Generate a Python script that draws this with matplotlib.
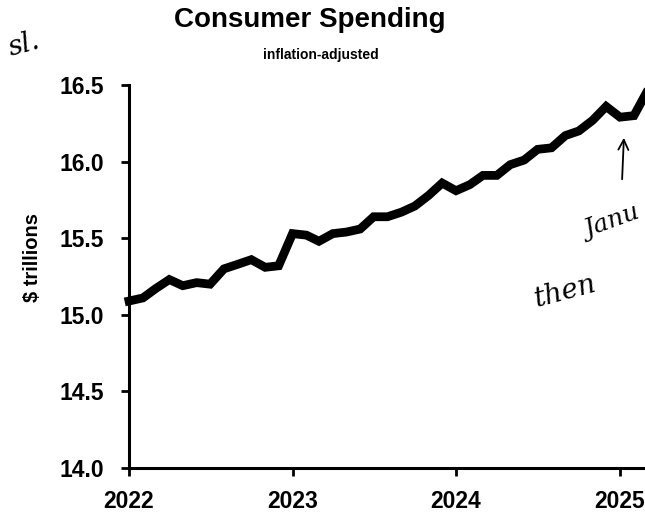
import matplotlib
matplotlib.use("Agg")
import matplotlib.pyplot as plt
import pandas as pd

# monthly consumer spending, inflation-adjusted ($ trillions), Jan 2022 - Mar 2025
months = pd.date_range("2022-01-01", periods=39, freq="MS")
spending = [15.09, 15.11, 15.17, 15.23, 15.19, 15.21, 15.20, 15.30, 15.33, 15.36, 15.31, 15.32,
            15.53, 15.52, 15.48, 15.53, 15.54, 15.56, 15.64, 15.64, 15.67, 15.71, 15.78, 15.86,
            15.81, 15.85, 15.91, 15.91, 15.98, 16.01, 16.08, 16.09, 16.17, 16.20, 16.27, 16.36,
            16.29, 16.30, 16.45]
year_ticks = pd.to_datetime(["2022-01-01", "2023-01-01", "2024-01-01", "2025-01-01"])
year_labels = ["2022", "2023", "2024", "2025"]
y_ticks = [14.0, 14.5, 15.0, 15.5, 16.0, 16.5]

plt.rcParams['font.family'] = ['Liberation Sans', 'DejaVu Sans']
plt.rcParams['font.weight'] = 'bold'

fig = plt.figure(figsize=(6.45, 5.13), dpi=100)
ax = fig.add_axes([0.2, 0.0877, 0.887, 0.7466])

ax.plot(months, spending, color='black', lw=6.3, solid_joinstyle='miter', clip_on=False)

ax.set_xlim(pd.Timestamp("2022-01-01"), pd.Timestamp("2025-07-01"))
ax.set_ylim(14.0, 16.5)
ax.set_xticks(year_ticks)
ax.set_xticklabels(year_labels)
ax.set_yticks(y_ticks)
ax.set_yticklabels([f"{v:.1f}" for v in y_ticks])
ax.tick_params(axis='both', labelsize=16.5, width=2, length=6, direction='out')
ax.tick_params(axis='y', pad=12)
ax.tick_params(axis='x', pad=10)
for lab in ax.get_xticklabels() + ax.get_yticklabels():
    lab.set_fontweight('bold')

for s in ['top', 'right']:
    ax.spines[s].set_visible(False)
for s in ['left', 'bottom']:
    ax.spines[s].set_linewidth(2.2)

fig.text(32/645, 1 - 257/513, "$ trillions", fontsize=14.5, fontweight='bold',
         rotation=90, ha='center', va='center')

fig.text(310/645, 1 - 20/513, "Consumer Spending", fontsize=20, fontweight='bold',
         ha='center', va='center')
fig.text(321/645, 1 - 55/513, "inflation-adjusted", fontsize=10, fontweight='bold',
         ha='center', va='center')

# handwritten notes on the scan
hand = dict(color='black', fontsize=20, fontstyle='italic', fontweight='normal',
            family=['DejaVu Serif'])
fig.text(5/645, 1 - 45/513, "sl.", rotation=15, ha='left', va='center', **hand)
fig.text(643/645, 1 - 222/513, "Janu", rotation=20, ha='right', va='center', fontsize=18,
         color='black', fontstyle='italic', fontweight='normal', family=['DejaVu Serif'])
fig.text(565/645, 1 - 292/513, "then", rotation=15, ha='center', va='center', **hand)
fig.add_artist(matplotlib.patches.FancyArrowPatch((622/645, 1 - 182/513), (624/645, 1 - 135/513),
               transform=fig.transFigure, arrowstyle='->', mutation_scale=18, lw=1.3, color='black'))

fig.savefig("out.png", dpi=100)
